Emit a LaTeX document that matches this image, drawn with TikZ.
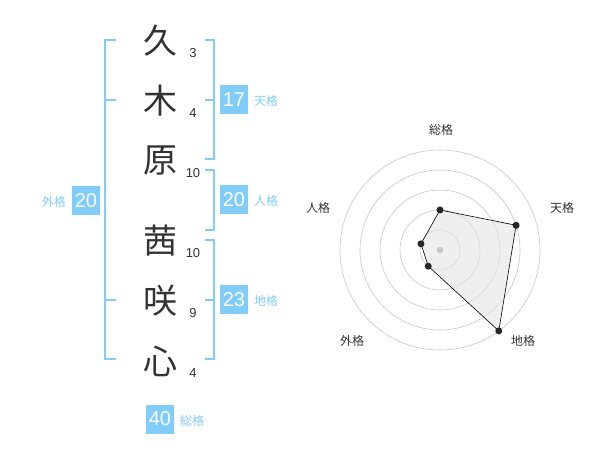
\documentclass[tikz,border=0pt]{standalone}
\usepackage{fontspec}
\usetikzlibrary{calc}
\setmainfont{Liberation Sans}
\newfontfamily\jp{Noto Sans CJK JP}
\definecolor{lb}{HTML}{80CCFA}
\definecolor{tx}{HTML}{333333}
\begin{document}
\begin{tikzpicture}[x=1pt,y=-1pt,
  brk/.style={draw=lb,line width=2pt},
  kanji/.style={font=\jp\fontsize{34}{34}\selectfont,text=tx,inner sep=0pt},
  stroke/.style={font=\fontsize{13}{13}\selectfont,text=tx,inner sep=0pt},
  numbox/.style={fill=lb,text=white,font=\fontsize{20}{20}\selectfont,minimum width=28pt,minimum height=29pt,inner sep=0pt},
  lab/.style={text=lb,font=\jp\fontsize{12}{12}\selectfont,inner sep=0pt},
  rlab/.style={text=tx,font=\jp\fontsize{12}{12}\selectfont,inner sep=0pt},
  ring/.style={draw=black!22,line width=0.6pt},
  dot/.style={circle,fill=black!85,inner sep=0pt,minimum size=7pt}]
\useasboundingbox (0,0) rectangle (600,470);
% kanji
\node[kanji] (k1) at (160,41) {久};
\node[kanji] (k2) at (160,101) {木};
\node[kanji] (k3) at (160,161) {原};
\node[kanji] (k4) at (160,241) {茜};
\node[kanji] (k5) at (160,301) {咲};
\node[kanji] (k6) at (160,361) {心};
\node[stroke] (s1) at (193,53) {3};
\node[stroke] (s2) at (193,113) {4};
\node[stroke] (s3) at (193,173) {10};
\node[stroke] (s4) at (193,253) {10};
\node[stroke] (s5) at (193,313) {9};
\node[stroke] (s6) at (193,373) {4};
% brackets
\draw[brk] (116,40) -- (105,40) -- (105,359) -- (116,359);
\draw[brk] (105,100) -- (116,100);
\draw[brk] (105,300) -- (116,300);
\draw[brk] (205,40) -- (214,40) -- (214,159) -- (205,159);
\draw[brk] (205,100) -- (214,100);
\draw[brk] (205,170) -- (214,170) -- (214,230) -- (205,230);
\draw[brk] (205,240) -- (214,240) -- (214,359) -- (205,359);
\draw[brk] (205,300) -- (214,300);
% boxes
\node[numbox] (b1) at (234,100) {17};
\node[lab,anchor=west] (l1) at (254,101) {天格};
\node[numbox] (b2) at (234,200) {20};
\node[lab,anchor=west] (l2) at (254,201) {人格};
\node[numbox] (b3) at (234,300) {23};
\node[lab,anchor=west] (l3) at (254,301) {地格};
\node[numbox] (b4) at (86,201) {20};
\node[lab,anchor=east] (l4) at (66,202) {外格};
\node[numbox] (b5) at (160,419) {40};
\node[lab,anchor=west] (l5) at (180,421) {総格};
% radar
\coordinate (c) at (440,250);
\foreach \r in {20,40,60,80,100} \draw[ring] (c) circle (\r);
\coordinate (pS) at ($(c)+(-90:40)$);
\coordinate (pT) at ($(c)+(-18:80)$);
\coordinate (pC) at ($(c)+(54:100)$);
\coordinate (pG) at ($(c)+(126:20)$);
\coordinate (pJ) at ($(c)+(198:20)$);
\filldraw[fill=black!10,fill opacity=0.6,draw=black,line width=0.6pt] (pS) -- (pT) -- (pC) -- (pG) -- (pJ) -- cycle;
\fill[black!22] (c) circle (3.3);
\foreach \p in {pS,pT,pC,pG,pJ} \node[dot] at (\p) {};
\node[rlab] (rS) at (441,130) {総格};
\node[rlab] (rT) at (562,208) {天格};
\node[rlab] (rJ) at (318,208) {人格};
\node[rlab] (rG) at (352,341) {外格};
\node[rlab] (rC) at (523,341) {地格};
\end{tikzpicture}
\end{document}
